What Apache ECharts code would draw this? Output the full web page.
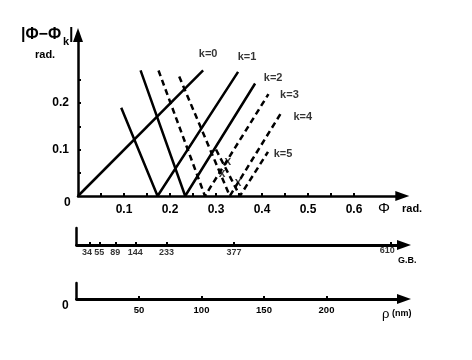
<!DOCTYPE html>
<html><head><meta charset="utf-8">
<script src="https://cdn.jsdelivr.net/npm/echarts@6/dist/echarts.min.js"></script>
<style>html,body{margin:0;padding:0;background:#fff}#c{width:472px;height:360px}</style>
</head><body><div id="c"></div>
<script>
// ---- data ----
const phiTicks = [0.05,0.1,0.15,0.2,0.25,0.3,0.35,0.4,0.45,0.5,0.55,0.6];
const phiLabels = [0.1,0.2,0.3,0.4,0.5,0.6];
const devTicks = [0.05,0.1,0.15,0.2,0.25];
const devLabels = [0.1,0.2];
const kNames = ['k=0','k=1','k=2','k=3','k=4','k=5'];
const k0 = [[0,0],[0.272,0.27]];
const k1 = [[0.094,0.19],[0.173,0],[0.348,0.267]];
const k2 = [[0.136,0.27],[0.233,0],[0.385,0.242]];
const k3 = [[0.175,0.27],[0.276,0],[0.414,0.219]];
const k4 = [[0.220,0.257],[0.330,0],[0.443,0.181]];
const k5 = [[0.300,0.10],[0.352,0],[0.413,0.095]];
const crossMarks = [[0.326,0.073],[0.313,0.047],[0.348,0.028]];
const gbLabels = ['34','55','89','144','233','377','610'];
const gbAt = [10.8,18.2,31,47,72,126,251];   // position of each G.B. tick on the ρ scale
const rhoTicks = [50,100,150,200];

// ---- layout / style ----
const FONT = '"Liberation Sans", Arial, sans-serif';
const PX_X = 460, PX_Y = 465, X0 = 78, Y0 = 196;
const xMax = 0.705, yMax = 0.346;
const RHO_PX = 1.25, RHO_MAX = 262;
const kLines = [k0,k1,k2,k3,k4,k5];
const dashed = [false,false,false,true,true,true];
const labelOffsets = [[5,-16],[9,-15],[18,-6],[21,1],[21,5],[15,2]];
const gbOffsets = [[-3,0],[0,0],[0,0],[0,0],[0,0],[0,0],[-3,-2]];

const chart = echarts.init(document.getElementById('c'), null, {renderer:'canvas'});
const series = [];
kLines.forEach((d,i)=>{
  series.push({type:'line', xAxisIndex:0, yAxisIndex:0, data:d, symbol:'none', silent:true,
    lineStyle:{color:'#000', width:2.5, type: dashed[i] ? [6,4] : 'solid'}, z:3});
  series.push({type:'scatter', xAxisIndex:0, yAxisIndex:0, data:[d[d.length-1]], symbolSize:0, silent:true,
    label:{show:true, position:'inside', offset:labelOffsets[i], formatter:kNames[i],
      fontFamily:FONT, fontWeight:'bold', fontSize:11, color:'#000'}});
});
series.push({type:'scatter', xAxisIndex:0, yAxisIndex:0, data:crossMarks, symbolSize:0, silent:true,
  label:{show:true, position:'inside', formatter:'x', fontFamily:FONT, fontWeight:'bold', fontSize:12, color:'#000'}});
// G.B. tick labels, drawn at their tick positions on the second axis
series.push({type:'scatter', xAxisIndex:1, yAxisIndex:1, symbolSize:0, silent:true,
  data: gbAt.map((p,i)=>({value:[p,0], label:{offset:gbOffsets[i]}})),
  label:{show:true, position:'bottom', distance:3,
    formatter:p=>gbLabels[p.dataIndex], fontFamily:FONT, fontWeight:'bold', fontSize:9, color:'#000'}});

const option = {
  backgroundColor:'#fff',
  animation:false,
  grid:[
    {left:X0, top:Y0 - yMax*PX_Y, width:xMax*PX_X, height:yMax*PX_Y},
    {left:76.5, top:228, width:RHO_MAX*RHO_PX, height:17},
    {left:76.5, top:283, width:RHO_MAX*RHO_PX, height:16}
  ],
  xAxis:[
    {gridIndex:0, type:'value', min:0, max:xMax,
     axisLine:{show:true, onZero:false, symbol:['none','triangle'], symbolSize:[10,14], lineStyle:{color:'#000',width:2.5}},
     axisTick:{show:true, inside:true, length:3, lineStyle:{color:'#000',width:2}, customValues:phiTicks},
     axisLabel:{show:true, customValues:phiLabels, margin:8, fontFamily:FONT, fontWeight:'bold', fontSize:12, color:'#000',
       formatter:v=>v.toFixed(1)},
     splitLine:{show:false}},
    {gridIndex:1, type:'value', min:0, max:RHO_MAX,
     axisLine:{show:true, onZero:false, symbol:['none','triangle'], symbolSize:[10,14], lineStyle:{color:'#000',width:2.8}},
     axisTick:{show:true, inside:true, length:3, lineStyle:{color:'#000',width:2}, customValues:gbAt},
     axisLabel:{show:false},
     splitLine:{show:false}},
    {gridIndex:2, type:'value', min:0, max:RHO_MAX,
     axisLine:{show:true, onZero:false, symbol:['none','triangle'], symbolSize:[10,14], lineStyle:{color:'#000',width:2.8}},
     axisTick:{show:true, inside:true, length:3, lineStyle:{color:'#000',width:2}, customValues:rhoTicks},
     axisLabel:{show:true, customValues:rhoTicks, margin:6, fontFamily:FONT, fontWeight:'bold', fontSize:9.5, color:'#000'},
     splitLine:{show:false}}
  ],
  yAxis:[
    {gridIndex:0, type:'value', min:0, max:yMax,
     axisLine:{show:true, onZero:false, symbol:['none','triangle'], symbolSize:[10,14], lineStyle:{color:'#000',width:2.5}},
     axisTick:{show:true, inside:true, length:3, lineStyle:{color:'#000',width:2}, customValues:devTicks},
     axisLabel:{show:true, customValues:devLabels, margin:9, fontFamily:FONT, fontWeight:'bold', fontSize:12, color:'#000',
       formatter:v=>v.toFixed(1)},
     splitLine:{show:false}},
    {gridIndex:1, type:'value', min:0, max:1, axisLine:{show:true, onZero:false, lineStyle:{color:'#000',width:2.5}},
     axisTick:{show:false}, axisLabel:{show:false}, splitLine:{show:false}},
    {gridIndex:2, type:'value', min:0, max:1, axisLine:{show:true, onZero:false, lineStyle:{color:'#000',width:2.5}},
     axisTick:{show:false}, axisLabel:{show:false}, splitLine:{show:false}}
  ],
  series:series,
  graphic:[
    {type:'text', left:21, top:27, style:{text:'|Φ−Φ', font:'bold 16px '+FONT, fill:'#000'}},
    {type:'text', left:63, top:36, style:{text:'k', font:'bold 11px '+FONT, fill:'#000'}},
    {type:'text', left:69, top:27, style:{text:'|', font:'bold 16px '+FONT, fill:'#000'}},
    {type:'text', left:35, top:49, style:{text:'rad.', font:'bold 11px '+FONT, fill:'#000'}},
    {type:'text', left:64, top:197, style:{text:'0', font:'bold 12px '+FONT, fill:'#000'}},
    {type:'text', left:378, top:201, style:{text:'Φ', font:'15px '+FONT, fill:'#000'}},
    {type:'text', left:402, top:203, style:{text:'rad.', font:'bold 11px '+FONT, fill:'#000'}},
    {type:'text', left:398, top:256, style:{text:'G.B.', font:'bold 9px '+FONT, fill:'#000'}},
    {type:'text', left:62, top:300, style:{text:'0', font:'bold 12px '+FONT, fill:'#000'}},
    {type:'text', left:382, top:308, style:{text:'ρ', font:'13px '+FONT, fill:'#000'}},
    {type:'text', left:392, top:309, style:{text:'(nm)', font:'bold 9px '+FONT, fill:'#000'}}
  ]
};
chart.setOption(option);
</script></body></html>
